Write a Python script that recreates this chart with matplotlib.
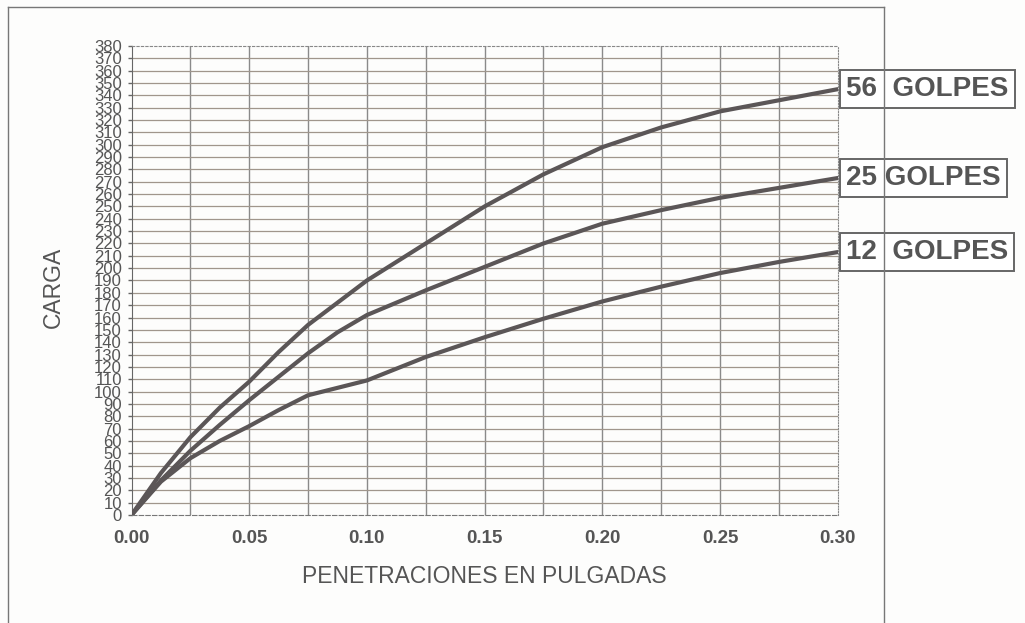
import numpy as np
import matplotlib
matplotlib.use('Agg')
import matplotlib.pyplot as plt
from matplotlib.lines import Line2D

plt.rcParams['font.family'] = ['Liberation Sans', 'DejaVu Sans']

# penetracion (pulgadas) y carga para cada energia de compactacion
penetracion = [0, 0.0125, 0.025, 0.0375, 0.05, 0.0625, 0.075, 0.0875, 0.1,
               0.125, 0.15, 0.175, 0.2, 0.225, 0.25, 0.275, 0.3]
carga_56 = [0, 34, 63, 87, 108, 132, 154, 172, 190, 220, 250, 276, 298, 314, 327, 336, 345]
carga_25 = [0, 28, 52, 73, 93, 112, 131, 148, 162, 182, 201, 220, 236, 247, 257, 265, 273]
carga_12 = [0, 27, 46, 60, 72, 85, 97, 103, 109, 128, 144, 159, 173, 185, 196, 205, 213]
etiquetas = ['56  GOLPES', '25 GOLPES', '12  GOLPES']

xticks = [0.0, 0.05, 0.10, 0.15, 0.20, 0.25, 0.30]
yticks = list(range(0, 381, 10))

gris = '#555555'
curva = '#5b5657'
fondo = '#fdfdfc'

fig = plt.figure(figsize=(10.25, 6.23), dpi=100, facecolor=fondo)
ax = fig.add_axes([0.1283, 0.1734, 0.689, 0.7528])
ax.set_facecolor(fondo)

# marco exterior
fig.add_artist(Line2D([8/1025, 8/1025], [0, 1 - 7/623], transform=fig.transFigure, color='#777777', lw=1))
fig.add_artist(Line2D([8/1025, 884/1025], [1 - 7/623, 1 - 7/623], transform=fig.transFigure, color='#777777', lw=1))
fig.add_artist(Line2D([884/1025, 884/1025], [0, 1 - 7/623], transform=fig.transFigure, color='#777777', lw=1))

ax.set_xlim(0, 0.3)
ax.set_ylim(0, 380)

for v in np.arange(0.025, 0.3, 0.025):
    ax.axvline(v, color='#8a8a8a', lw=1, zorder=1)
for h in yticks[1:-1]:
    ax.axhline(h, color='#a0968c', lw=0.9, zorder=1)

for serie in [carga_56, carga_25, carga_12]:
    ax.plot(penetracion, serie, color=curva, lw=3, zorder=3,
            solid_capstyle='round', solid_joinstyle='round')

finales = [carga_56[-1], carga_25[-1], carga_12[-1]]
for lab, yv in zip(etiquetas, finales):
    ax.annotate(lab, xy=(0.3, yv), xytext=(6, 0), textcoords='offset points',
                ha='left', va='center', fontsize=20, fontweight='bold', color=gris,
                annotation_clip=False, zorder=5,
                bbox=dict(boxstyle='square,pad=0.22', fc='white', ec='#666666', lw=1.4))

ax.set_xticks(xticks)
ax.set_xticklabels(['%.2f' % v for v in xticks], fontsize=13.5, fontweight='bold', color=gris)
ax.set_yticks(yticks)
ax.set_yticklabels([str(v) for v in yticks], fontsize=12, color=gris)
ax.tick_params(axis='x', length=0, pad=11)
ax.tick_params(axis='y', length=3, width=1, color='#666666', pad=4)

ax.spines['left'].set_color('#666666')
ax.spines['bottom'].set_color('#777777')
ax.spines['bottom'].set_linestyle((0, (4, 2)))
ax.spines['top'].set_color('#888888')
ax.spines['top'].set_linestyle((0, (2, 2)))
ax.spines['right'].set_color('#888888')
ax.spines['right'].set_linestyle((0, (1, 1.5)))

ax.set_xlabel('PENETRACIONES EN PULGADAS', fontsize=16.5, color=gris, va='center')
ax.xaxis.set_label_coords(0.5, -0.132)
ax.set_ylabel('CARGA', fontsize=16.5, color=gris, va='center')
ax.yaxis.set_label_coords(-0.111, 0.486)

fig.savefig('out.png', dpi=100, facecolor=fig.get_facecolor())
